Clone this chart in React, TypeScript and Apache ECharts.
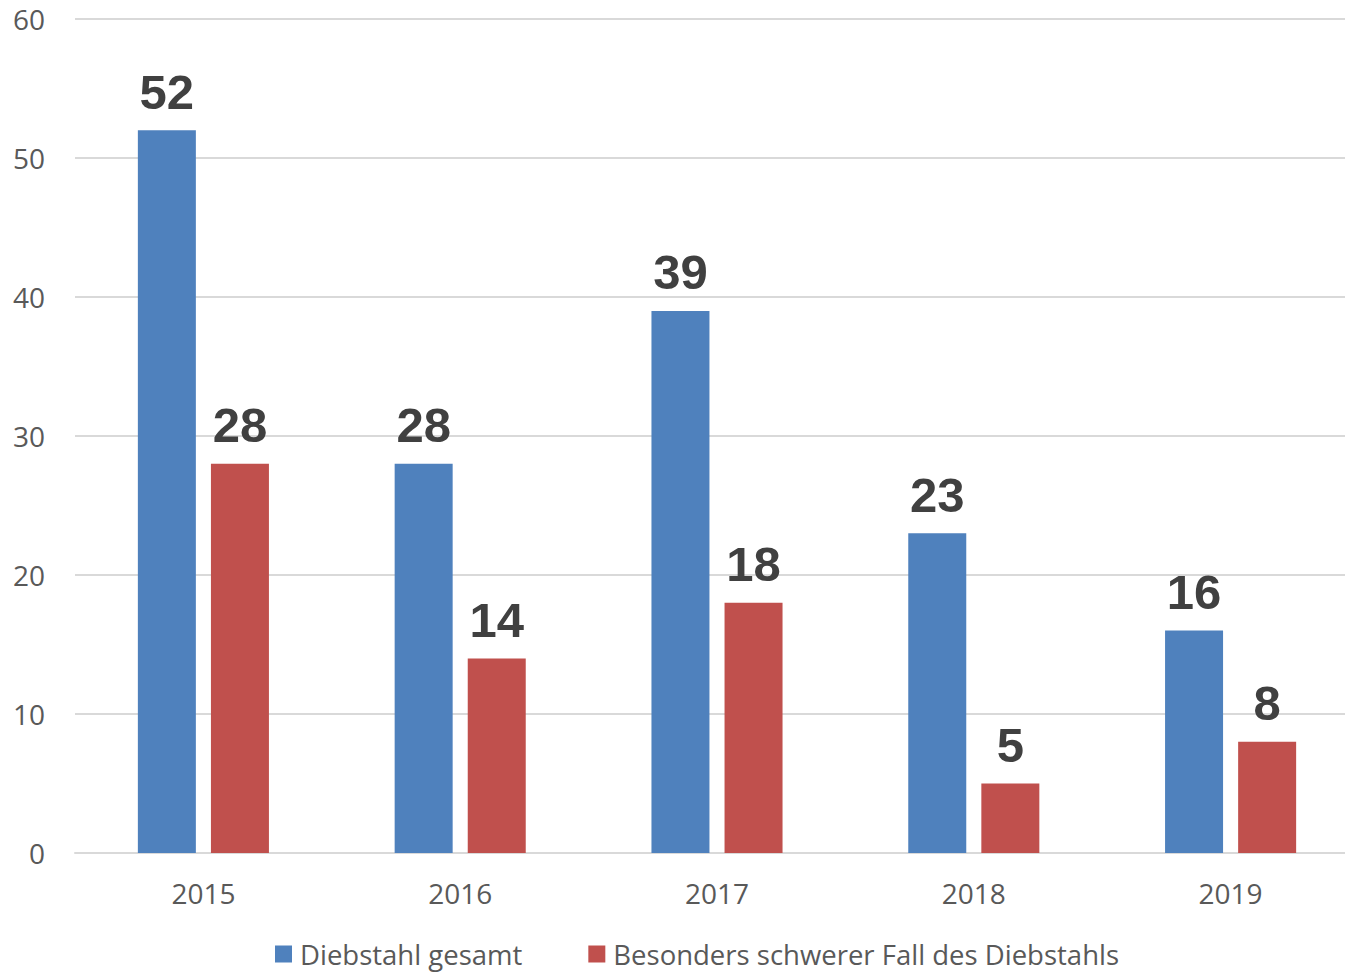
import React, { useEffect, useRef } from "react";
import * as echarts from "echarts";

const categories = ["2015", "2016", "2017", "2018", "2019"];
const diebstahlGesamt = [52, 28, 39, 23, 16];
const schwererFall = [28, 14, 18, 5, 8];
const seriesNames = ["Diebstahl gesamt", "Besonders schwerer Fall des Diebstahls"];

export default function App() {
  const ref = useRef<HTMLDivElement>(null);
  useEffect(() => {
    if (!ref.current) return;
    const chart = echarts.init(ref.current, null, { renderer: "svg" });
    const labelStyle = {
      show: true,
      position: "top" as const,
      distance: 14,
      fontFamily: "Liberation Sans, Arial, sans-serif",
      fontWeight: "bold" as const,
      fontSize: 49,
      color: "#404040",
    };
    chart.setOption({
      animation: false,
      backgroundColor: "#ffffff",
      textStyle: { fontFamily: "Open Sans, sans-serif" },
      grid: { left: 75, right: 0, top: 19, bottom: 120, containLabel: false },
      legend: {
        left: 270,
        bottom: 0,
        itemWidth: 17,
        itemHeight: 17,
        itemGap: 66,
        icon: "rect",
        textStyle: { fontSize: 27.5, color: "#595959", fontFamily: "Open Sans, sans-serif", padding: [0, 0, 0, 3] },
        data: seriesNames,
      },
      xAxis: {
        type: "category",
        data: categories,
        axisLine: { show: true, lineStyle: { color: "#d9d9d9", width: 2 } },
        axisTick: { show: false },
        axisLabel: { fontSize: 28, color: "#595959", margin: 26 },
      },
      yAxis: {
        type: "value",
        min: 0,
        max: 60,
        interval: 10,
        axisLine: { show: false },
        axisTick: { show: false },
        splitLine: { lineStyle: { color: "#d9d9d9", width: 2 } },
        axisLabel: { fontSize: 28, color: "#595959", margin: 30 },
      },
      series: [
        {
          name: seriesNames[0],
          type: "bar",
          data: diebstahlGesamt,
          barWidth: 58,
          barGap: "26%",
          itemStyle: { color: "#4F81BD" },
          label: labelStyle,
        },
        {
          name: seriesNames[1],
          type: "bar",
          data: schwererFall,
          barWidth: 58,
          barGap: "26%",
          itemStyle: { color: "#C0504D" },
          label: labelStyle,
        },
      ],
    });
    return () => chart.dispose();
  }, []);
  return (
    <div
      style={{ position: "fixed", left: 0, top: 0, width: 1345, height: 973, overflow: "hidden", background: "#fff" }}
    >
      <div ref={ref} style={{ width: 1359, height: 973 }} />
    </div>
  );
}
